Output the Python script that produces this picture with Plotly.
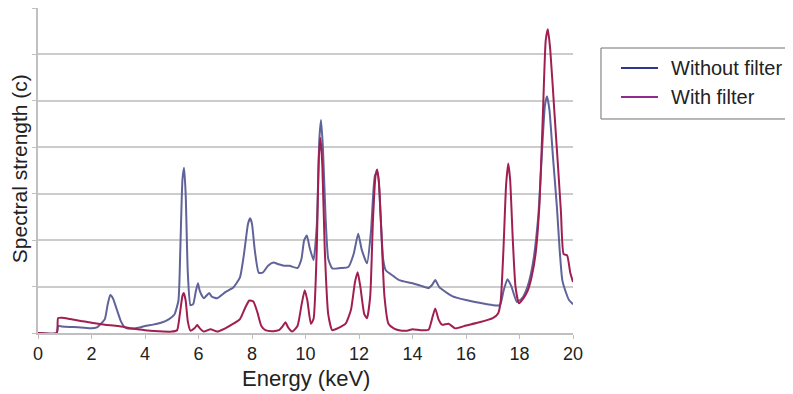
import plotly.graph_objects as go

# Without filter
blue_x = [0, 0.70, 0.75, 0.9, 1.2, 1.6, 2.0, 2.2, 2.35, 2.5, 2.6, 2.7, 2.8, 2.95, 3.1, 3.25, 3.5, 3.8,
          4.0, 4.3, 4.6, 4.9, 5.1, 5.25, 5.32, 5.4, 5.46, 5.52, 5.6, 5.7, 5.8, 5.9, 5.98, 6.05, 6.2,
          6.4, 6.5, 6.7, 7.0, 7.3, 7.55, 7.7, 7.85, 7.93, 8.0, 8.1, 8.25, 8.4, 8.6, 8.8, 9.0, 9.2,
          9.4, 9.7, 9.85, 9.95, 10.05, 10.15, 10.3, 10.42, 10.52, 10.58, 10.65, 10.75, 10.85, 11.0,
          11.3, 11.6, 11.8, 11.97, 12.1, 12.3, 12.45, 12.6, 12.7, 12.8, 12.9, 13.0, 13.3, 13.5, 14.0,
          14.3, 14.6, 14.75, 14.85, 15.0, 15.2, 15.5, 16.0, 16.5, 17.0, 17.27, 17.4, 17.55, 17.7,
          17.9, 18.1, 18.3, 18.5, 18.7, 18.85, 18.95, 19.03, 19.12, 19.25, 19.4, 19.5, 19.6, 19.75,
          19.85, 20.0]
blue_y = [0, 0, 0.15, 0.14, 0.13, 0.12, 0.10, 0.12, 0.2, 0.3, 0.6, 0.82, 0.75, 0.5, 0.25, 0.12, 0.09, 0.12,
          0.15, 0.18, 0.22, 0.3, 0.4, 0.7, 1.8, 3.3, 3.56, 3.0, 1.3, 0.6, 0.62, 0.9, 1.07, 0.9, 0.75,
          0.86, 0.78, 0.75, 0.88, 0.98, 1.2, 1.7, 2.35, 2.47, 2.35, 1.8, 1.3, 1.3, 1.45, 1.52, 1.48, 1.45,
          1.45, 1.4, 1.6, 2.0, 2.1, 1.85, 1.57, 2.3, 4.2, 4.59, 4.0, 2.5, 1.6, 1.39,
          1.4, 1.42, 1.7, 2.14, 1.8, 1.5, 2.2, 3.4, 3.45, 2.6, 1.6, 1.35, 1.22, 1.14, 1.07,
          1.02, 0.97, 1.05, 1.14, 0.99, 0.9, 0.79, 0.71, 0.65, 0.6, 0.6, 0.9, 1.16, 1.0,
          0.67, 0.75, 1.0, 1.5, 2.5, 4.0, 4.9, 5.1, 4.8, 3.8, 2.7, 1.8, 1.14, 0.85,
          0.71, 0.62]

# With filter
red_x = [0, 0.70, 0.75, 0.9, 1.2, 1.6, 2.0, 2.5, 3.0, 3.5, 4.0, 4.5, 5.0, 5.2, 5.3, 5.4, 5.45, 5.52, 5.6,
         5.7, 5.85, 5.95, 6.05, 6.2, 6.45, 6.7, 7.0, 7.3, 7.55, 7.75, 7.9, 8.05, 8.2, 8.35, 8.5, 8.8,
         9.0, 9.15, 9.25, 9.35, 9.5, 9.7, 9.85, 9.97, 10.07, 10.2, 10.3, 10.42, 10.5, 10.56, 10.63,
         10.72, 10.85, 11.0, 11.2, 11.5, 11.7, 11.85, 11.95, 12.05, 12.2, 12.3, 12.42, 12.52, 12.62,
         12.68, 12.75, 12.85, 12.95, 13.1, 13.3, 13.5, 13.8, 14.0, 14.3, 14.6, 14.75, 14.85, 14.97,
         15.1, 15.35, 15.6, 16.0, 16.5, 17.0, 17.2, 17.3, 17.4, 17.5, 17.58, 17.65, 17.75, 17.85,
         17.98, 18.15, 18.3, 18.45, 18.6, 18.75, 18.88, 18.98, 19.06, 19.15, 19.3, 19.45, 19.55,
         19.65, 19.78, 19.9, 20.0]
red_y = [0, 0, 0.32, 0.33, 0.3, 0.26, 0.22, 0.18, 0.15, 0.1, 0.06, 0.04, 0.03, 0.06, 0.4, 0.8, 0.86, 0.7, 0.25,
         0.05, 0.1, 0.17, 0.1, 0.03, 0.08, 0.03, 0.1, 0.2, 0.3, 0.55, 0.7, 0.68, 0.45, 0.15, 0.06, 0.04,
         0.06, 0.15, 0.23, 0.12, 0.03, 0.15, 0.6, 0.92, 0.7, 0.2, 0.3, 1.8, 3.8, 4.2, 3.6,
         1.8, 0.4, 0.06, 0.1, 0.2, 0.5, 1.1, 1.31, 1.0, 0.4, 0.32, 0.8, 2.4, 3.4,
         3.52, 3.2, 2.0, 0.8, 0.2, 0.1, 0.06, 0.05, 0.08, 0.06, 0.07, 0.35, 0.53, 0.3,
         0.18, 0.2, 0.1, 0.16, 0.23, 0.32, 0.42, 0.7, 1.8, 3.2, 3.65, 3.3, 2.0, 1.0,
         0.64, 0.75, 0.9, 1.2, 1.7, 2.8, 4.8, 6.3, 6.54, 6.1, 4.8, 3.5, 2.6,
         1.7, 1.67, 1.29, 1.1]

x_ticks = [0, 2, 4, 6, 8, 10, 12, 14, 16, 18, 20]
series_names = ["Without filter", "With filter"]
line_colors = ["#5f6399", "#a01f50"]
legend_colors = ["#2e3790", "#952a8e"]

FONT = "Liberation Sans, Arial, sans-serif"
TXT = "#222222"

fig = go.Figure()
for xs, ys, nm, col in [(blue_x, blue_y, series_names[0], line_colors[0]),
                        (red_x, red_y, series_names[1], line_colors[1])]:
    fig.add_trace(go.Scatter(x=xs, y=ys, mode="lines", name=nm, showlegend=False,
                             line=dict(color=col, width=2, shape="spline", smoothing=0.5)))

# manual legend box (extends past the right edge as in the reference)
fig.add_shape(type="rect", xref="paper", yref="paper", x0=1.0523, x1=1.45, y0=0.6585, y1=0.8769,
              line=dict(color="#707070", width=1), fillcolor="white", layer="above")
for i, (nm, col) in enumerate(zip(series_names, legend_colors)):
    yy = [0.8154, 0.7262][i]
    fig.add_shape(type="line", xref="paper", yref="paper", x0=1.0897, x1=1.1589, y0=yy, y1=yy,
                  line=dict(color=col, width=2))
    fig.add_annotation(text=nm, xref="paper", yref="paper", x=1.1794, y=yy, xanchor="left",
                       yanchor="middle", showarrow=False, font=dict(size=20, color=TXT))

fig.add_annotation(text="Spectral strength (c)", xref="paper", yref="paper", x=-0.033, y=0.505,
                   textangle=-90, showarrow=False, xanchor="center", yanchor="middle",
                   font=dict(size=21, color=TXT))
fig.add_annotation(text="Energy (keV)", xref="paper", yref="paper", x=0.5, y=-0.1415,
                   showarrow=False, xanchor="center", yanchor="middle",
                   font=dict(size=22, color=TXT))

# the page body adds an 8px offset, so margins are shifted to land the plot area where the reference has it
fig.update_layout(
    width=793, height=394,
    margin=dict(l=30, r=228, t=0, b=69),
    paper_bgcolor="white", plot_bgcolor="white",
    font=dict(family=FONT, color=TXT),
    showlegend=False,
    xaxis=dict(range=[0, 20], tickvals=x_ticks, ticktext=[str(v) for v in x_ticks],
               showgrid=False, showline=True, linecolor="#c0c0c0", linewidth=1.5,
               ticks="outside", ticklen=4, tickcolor="#c0c0c0",
               tickfont=dict(size=18, color=TXT), automargin=False, zeroline=False),
    yaxis=dict(range=[0, 7], dtick=1, showticklabels=False,
               showgrid=True, gridcolor="#cccccc", gridwidth=1.5,
               showline=True, linecolor="#c0c0c0", linewidth=1.5,
               ticks="outside", ticklen=4, tickcolor="#c0c0c0",
               automargin=False, zeroline=False),
)

fig.write_html("out.html")
